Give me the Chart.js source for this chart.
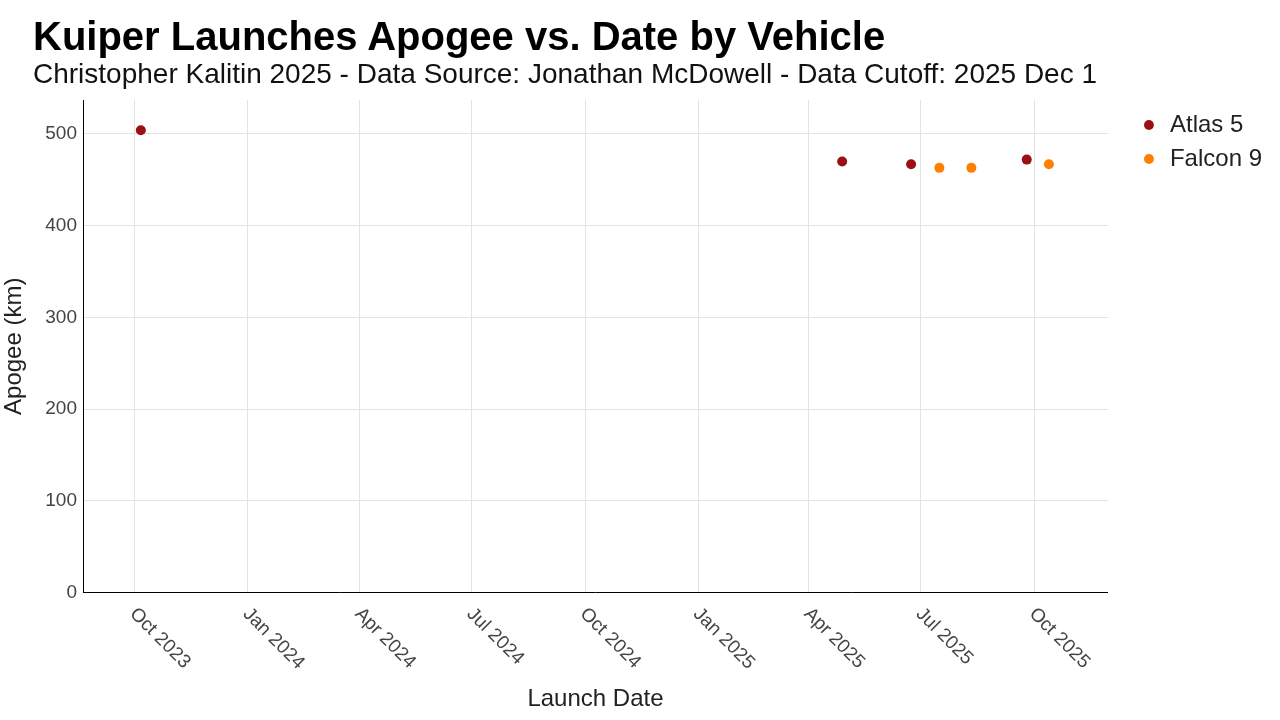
<!DOCTYPE html>
<html>
<head>
<meta charset="utf-8">
<script src="https://cdn.jsdelivr.net/npm/chart.js@4/dist/chart.umd.min.js"></script>
<style>
  html, body { margin: 0; padding: 0; background: #fff; }
  #wrap { position: relative; width: 1280px; height: 720px; font-family: "Liberation Sans", Arial, sans-serif; }
  #title { position: absolute; left: 33px; top: 16px; font-size: 40px; line-height: 40px; font-weight: bold; color: #000; white-space: nowrap; }
  #subtitle { position: absolute; left: 33px; top: 60px; font-size: 28px; line-height: 28px; color: #111; white-space: nowrap; }
  canvas { position: absolute; left: 0; top: 0; }
</style>
</head>
<body>
<div id="wrap">
  <canvas id="apogeeChart" width="1280" height="720"></canvas>
  <div id="title">Kuiper Launches Apogee vs. Date by Vehicle</div>
  <div id="subtitle">Christopher Kalitin 2025 - Data Source: Jonathan McDowell - Data Cutoff: 2025 Dec 1</div>
</div>
<script>
var atlasDates = ['2023-10-06', '2025-04-28', '2025-06-23', '2025-09-25'];
var atlasApogee = [504, 470, 467, 472];
var falconDates = ['2025-07-16', '2025-08-11', '2025-10-13'];
var falconApogee = [463, 463, 467];

var xTickDates = ['2023-10-01', '2024-01-01', '2024-04-01', '2024-07-01', '2024-10-01', '2025-01-01', '2025-04-01', '2025-07-01', '2025-10-01'];
var xTickLabels = ['Oct 2023', 'Jan 2024', 'Apr 2024', 'Jul 2024', 'Oct 2024', 'Jan 2025', 'Apr 2025', 'Jul 2025', 'Oct 2025'];
var yTickValues = [0, 100, 200, 300, 400, 500];
var xMin = '2023-08-20', xMax = '2025-11-30';
var yMin = 0, yMax = 537;

var FONT = '"Liberation Sans", Arial, sans-serif';

function toPoints(dates, vals) {
  return dates.map(function (d, i) { return { x: Date.parse(d), y: vals[i] }; });
}

// tick labels run down-right from the tick, which Chart.js can't rotate that way
var xTickLabelPlugin = {
  id: 'xTickLabels',
  afterDraw: function (chart) {
    var scale = chart.scales.x;
    var ctx = chart.ctx;
    ctx.save();
    ctx.font = '19px ' + FONT;
    ctx.fillStyle = '#444';
    ctx.textAlign = 'left';
    ctx.textBaseline = 'middle';
    scale.ticks.forEach(function (t, i) {
      var px = scale.getPixelForValue(t.value);
      ctx.save();
      ctx.translate(px - 2, scale.top + 18.5);
      ctx.rotate(Math.PI / 4);
      ctx.fillText(xTickLabels[i], 0, 0);
      ctx.restore();
    });
    ctx.restore();
  }
};

new Chart(document.getElementById('apogeeChart').getContext('2d'), {
  type: 'scatter',
  data: {
    datasets: [
      { label: 'Atlas 5', data: toPoints(atlasDates, atlasApogee), backgroundColor: '#9b0f15', borderColor: '#9b0f15', pointRadius: 5, borderWidth: 0 },
      { label: 'Falcon 9', data: toPoints(falconDates, falconApogee), backgroundColor: '#ff8000', borderColor: '#ff8000', pointRadius: 5, borderWidth: 0 }
    ]
  },
  options: {
    responsive: false,
    animation: false,
    layout: { padding: { top: 100, right: 8, bottom: 0, left: 0 } },
    plugins: {
      tooltip: { enabled: false },
      legend: {
        position: 'right',
        align: 'start',
        title: { display: true, text: '', font: { size: 1, lineHeight: 1 }, padding: { top: 1, bottom: 1 } },
        labels: { usePointStyle: true, pointStyle: 'circle', boxWidth: 18, boxHeight: 7, padding: 10, color: '#222', font: { family: FONT, size: 24 } }
      }
    },
    scales: {
      x: {
        type: 'linear',
        min: Date.parse(xMin),
        max: Date.parse(xMax),
        afterBuildTicks: function (s) { s.ticks = xTickDates.map(function (d) { return { value: Date.parse(d) }; }); },
        afterFit: function (s) { s.height = 127.5; },
        grid: { color: '#e3e3e3', drawTicks: false },
        border: { display: true, color: '#000', width: 1 },
        ticks: { display: false },
        title: { display: true, text: 'Launch Date', color: '#222', font: { family: FONT, size: 24 }, padding: { top: 0, bottom: 6 } }
      },
      y: {
        type: 'linear',
        min: yMin,
        max: yMax,
        afterBuildTicks: function (s) { s.ticks = yTickValues.map(function (v) { return { value: v }; }); },
        afterFit: function (s) { s.width = 83; },
        grid: { color: '#e3e3e3', drawTicks: false },
        border: { display: true, color: '#000', width: 1 },
        ticks: { padding: 6, color: '#444', font: { family: FONT, size: 19 } },
        title: { display: true, text: 'Apogee (km)', color: '#222', font: { family: FONT, size: 24 }, padding: { top: 0, bottom: 0 } }
      },
      yGap: {
        type: 'linear',
        position: 'right',
        afterFit: function (s) { s.width = 22; },
        grid: { display: false },
        border: { display: false },
        ticks: { display: false }
      }
    }
  },
  plugins: [xTickLabelPlugin]
});
</script>
</body>
</html>
